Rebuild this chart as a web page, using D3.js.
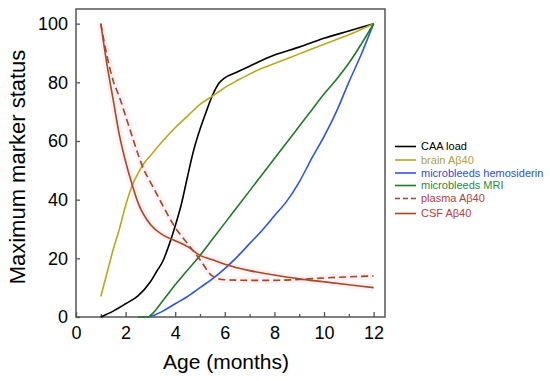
<!DOCTYPE html>
<html>
<head>
<meta charset="utf-8">
<script src="https://cdn.jsdelivr.net/npm/d3@7"></script>
<style>
  body { margin: 0; background: #fff; }
  text { font-family: "Liberation Sans", Arial, sans-serif; }
</style>
</head>
<body>
<div id="chart"></div>
<script>
// tick values
var xTicks = [0, 2, 4, 6, 8, 10, 12];
var xMinor = [1, 3, 5, 7, 9, 11];
var yTicks = [0, 20, 40, 60, 80, 100];

// series: [age, value]
var caaLoad = [[1,0],[1.5,2],[2,4.5],[2.5,7.2],[3,12],[3.25,15.5],[3.5,19],[3.75,24.5],[4,31],[4.25,38.5],
  [4.5,48],[4.75,57],[5,64],[5.25,70],[5.5,75.5],[5.75,79.5],[6,81.5],[6.5,83.5],[7,85.5],[8,89.3],
  [9,92],[10,95],[11,97.5],[12,100]];
var brainAb40 = [[1,7],[1.25,15],[1.5,23],[1.75,30],[2,38],[2.25,44.5],[2.5,49],[2.75,52.5],[3,55],[3.5,60],
  [4,64.5],[4.5,68.5],[5,72.5],[5.5,75.3],[6,78.2],[6.5,80.6],[7,82.8],[7.5,84.8],[8,86.4],[9,89.7],
  [10,93],[11,96.2],[12,100]];
var mbHemosiderin = [[3,0],[3.5,2],[4,4.5],[4.5,7],[5,10],[5.5,13],[6,16.5],[6.5,20.5],[7,25],[7.5,29.5],
  [8,34.5],[8.5,39.5],[9,46],[9.5,54],[10,61.5],[10.5,70],[11,80],[11.5,89.5],[12,100]];
var mbMRI = [[2.5,0],[2.9,0],[3,0.5],[3.5,5.5],[4,11],[4.5,16],[5,21],[5.5,26.5],[6,32],[6.5,37.5],[7,43],
  [7.5,48.5],[8,54],[8.5,59.5],[9,65],[9.5,70.5],[10,76],[10.5,81],[11,86.5],[11.5,93],[12,100]];
var plasmaAb40 = [[1,100],[1.25,89],[1.5,80.5],[1.75,75],[2,68.5],[2.25,62],[2.5,55.5],[2.75,50],[3,46],
  [3.5,38],[4,30.5],[4.5,25],[5,19.5],[5.5,14],[6,12.7],[7,12.5],[8,12.5],[9,12.8],[10,13.3],[11,13.7],[12,14]];
var csfAb40 = [[1,100],[1.25,86],[1.5,74],[1.75,62],[2,53],[2.25,45.5],[2.5,39],[3,31.5],[3.5,28],[4,26],
  [4.5,24],[5,21],[5.5,19.5],[6,18],[7,15.8],[8,14.3],[9,13],[10,12],[11,11],[12,10]];

var seriesNames = ["CAA load", "brain A\u03b240", "microbleeds hemosiderin", "microbleeds MRI", "plasma A\u03b240", "CSF A\u03b240"];
var seriesData = [caaLoad, brainAb40, mbHemosiderin, mbMRI, plasmaAb40, csfAb40];
var lineColors = ["#000000", "#bba71c", "#2c55e6", "#1f7a25", "#9a4a1c", "#a84a1e"];
var textColors = ["#000000", "#b0a040", "#2c4fd0", "#2a8a3a", "#b24040", "#c03a3a"];
var dashes = [null, null, null, null, "7,4", null];

// set the dimensions and margins of the graph
var margin = {top: 9, right: 165, bottom: 64, left: 76},
    width = 385 - margin.left,
    height = 317 - margin.top;

var svg = d3.select("#chart")
  .append("svg")
    .attr("width", 550)
    .attr("height", 381)
  .append("g")
    .attr("transform", "translate(" + margin.left + "," + margin.top + ")");

var x = d3.scaleLinear().domain([0, 12.46]).range([0, width]);
var y = d3.scaleLinear().domain([0, 105]).range([height, 0]);

var line = d3.line()
  .curve(d3.curveMonotoneX)
  .x(function(d) { return x(d[0]); })
  .y(function(d) { return y(d[1]); });

// faint pink halo behind the Aβ40 curves
[plasmaAb40, csfAb40].forEach(function(s) {
  svg.append("path")
    .datum(s)
    .attr("d", line)
    .attr("fill", "none")
    .attr("stroke", "#fdf0f6")
    .attr("stroke-width", 7)
    .attr("stroke-linejoin", "round");
});

// X axis
var xAxis = svg.append("g")
  .attr("transform", "translate(0," + height + ")")
  .call(d3.axisBottom(x).tickValues(xTicks).tickSize(-5).tickPadding(9));
xAxis.select(".domain").remove();
xAxis.selectAll("text").style("font-size", "18px").attr("fill", "#000");
xAxis.selectAll("line").attr("stroke", "#555").attr("stroke-width", 1.3);

var xMinorAxis = svg.append("g")
  .attr("transform", "translate(0," + height + ")")
  .call(d3.axisBottom(x).tickValues(xMinor).tickSize(-3).tickFormat(""));
xMinorAxis.select(".domain").remove();
xMinorAxis.selectAll("line").attr("stroke", "#555").attr("stroke-width", 1.3);

// Y axis
var yAxis = svg.append("g")
  .call(d3.axisLeft(y).tickValues(yTicks).tickSize(-4).tickPadding(8));
yAxis.select(".domain").remove();
yAxis.selectAll("text").style("font-size", "18px").attr("fill", "#000");
yAxis.selectAll("line").attr("stroke", "#555").attr("stroke-width", 1.3);

// frame
svg.append("rect")
  .attr("width", width)
  .attr("height", height)
  .attr("fill", "none")
  .attr("stroke", "#555")
  .attr("stroke-width", 1.5);

// Lines
seriesData.forEach(function(s, i) {
  svg.append("path")
    .datum(s)
    .attr("d", line)
    .attr("fill", "none")
    .attr("stroke", lineColors[i])
    .attr("stroke-width", 1.6)
    .attr("stroke-dasharray", dashes[i]);
});

// axis titles
svg.append("text")
  .attr("x", 226 - margin.left)
  .attr("y", 369 - margin.top)
  .attr("text-anchor", "middle")
  .style("font-size", "21px")
  .text("Age (months)");

svg.append("text")
  .attr("transform", "translate(" + (25 - margin.left) + "," + (167 - margin.top) + ")rotate(-90)")
  .attr("text-anchor", "middle")
  .style("font-size", "22px")
  .text("Maximum marker status");

// legend
var legendY = [146.5, 160, 173, 185.5, 198.5, 213.5];
var legend = svg.append("g")
  .attr("transform", "translate(" + (395 - margin.left) + "," + (-margin.top) + ")");
seriesNames.forEach(function(name, i) {
  legend.append("line")
    .attr("x1", 0).attr("x2", 21)
    .attr("y1", legendY[i]).attr("y2", legendY[i])
    .attr("stroke", lineColors[i])
    .attr("stroke-width", 1.6)
    .attr("stroke-dasharray", i == 4 ? "5,3" : null);
  legend.append("text")
    .attr("x", 26)
    .attr("y", legendY[i])
    .attr("dy", "0.35em")
    .style("font-size", "11px")
    .attr("fill", textColors[i])
    .text(name);
});
</script>
</body>
</html>
